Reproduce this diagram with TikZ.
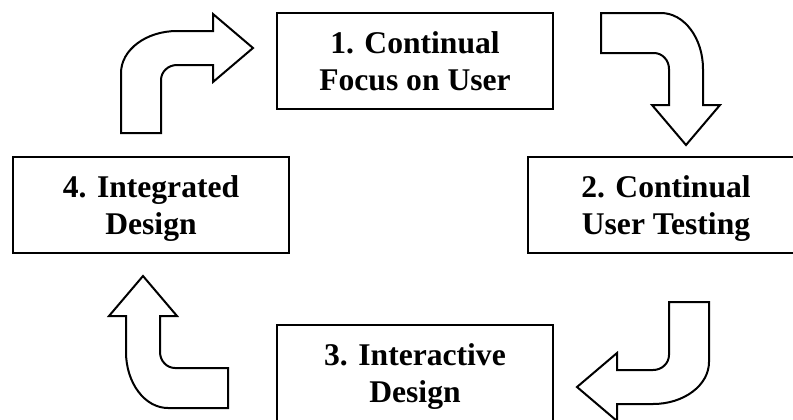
\documentclass[tikz,border=0pt]{standalone}
\usepackage{fontspec}
\setmainfont{Liberation Serif}
\usepackage{tikz}
\usetikzlibrary{positioning}

\tikzset{
  stage/.style={draw, line width=1.2pt, minimum width=138pt, minimum height=48pt,
    align=center, text depth=0pt, inner sep=0pt,
    font=\bfseries\fontsize{15.8}{18.5}\selectfont},
  arrowline/.style={draw=black, fill=white, line width=1pt, line join=miter},
  turnarrow/.pic={
    \path[arrowline] (0,0) -- (40,0) -- (40,53)
      .. controls (40,61.3) and (47.2,68) .. (56,68) -- (92,68) -- (92,51)
      -- (132,85) -- (92,119) -- (92,102) -- (56,102)
      .. controls (25.1,102) and (0,83.2) .. (0,60) -- cycle;
  }
}

\begin{document}
\begin{tikzpicture}[x=0.5pt, y=0.5pt, node distance=2cm, on grid]
   \useasboundingbox (0,0) rectangle (793,-419);
   \clip (0,0) rectangle (793,-419);

   \node[stage] (focus) at (415,-61) {1. Continual\\Focus on User};
   \node[stage] (testing) [below right=72pt and 125.5pt of focus] {2. Continual\\User Testing};
   \node[stage] (interactive) [below=156pt of focus] {3. Interactive\\Design};
   \node[stage] (integrated) [below left=72pt and 132pt of focus] {4. Integrated\\Design};

   \pic at (121,-133) {turnarrow};
   \pic[rotate=-90] at (601,-13) {turnarrow};
   \pic[rotate=180] at (709,-302) {turnarrow};
   \pic[rotate=90] at (228,-408) {turnarrow};
\end{tikzpicture}
\end{document}
